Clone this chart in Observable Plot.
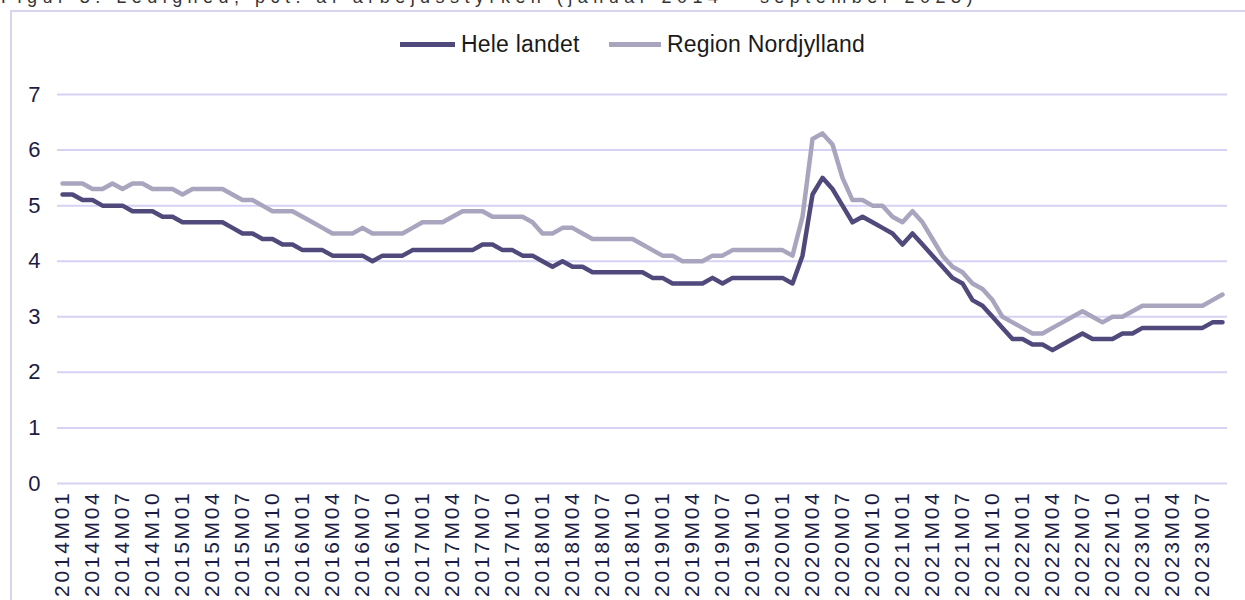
<!DOCTYPE html>
<html>
<head>
<meta charset="utf-8">
<script src="https://cdn.jsdelivr.net/npm/d3@7"></script>
<script src="https://cdn.jsdelivr.net/npm/@observablehq/plot@0.6"></script>
<style>
  html, body { margin: 0; padding: 0; background: #fff; overflow: hidden; }
  #wrap { position: relative; width: 1245px; height: 600px; overflow: hidden; font-family: "Liberation Sans", Arial, sans-serif; }
  #title { position: absolute; left: 1px; top: -12px; font-size: 18px; line-height: 18px; color: #333; white-space: nowrap; }
  #frame { position: absolute; left: 10px; top: 10px; width: 1280px; height: 640px; border: 2px solid #d8d5f1; box-sizing: border-box; pointer-events: none; }
  #legend { position: relative; height: 70px; }
  .sw { position: absolute; top: 42px; height: 5px; }
  .lt { position: absolute; top: 30px; font-size: 23px; line-height: 28px; color: #1a1a1a; white-space: nowrap; letter-spacing: 0.2px; }
  #chart { position: relative; }
  #chart svg [aria-label="x-axis tick label"] text { letter-spacing: 2.7px; }
</style>
</head>
<body>
<div id="wrap">
  <div id="title">Figur 3. Ledighed, pct. af arbejdsstyrken (januar 2014 – september 2023)</div>
  <div id="frame"></div>
  <div id="legend"></div>
  <div id="chart"></div>
</div>
<script>
// ---------- data ----------
const years = [2014, 2015, 2016, 2017, 2018, 2019, 2020, 2021, 2022, 2023];
const monthCodes = ["01","02","03","04","05","06","07","08","09","10","11","12"];
const lastMonth = "2023M09";
const months = [];
for (const yr of years) for (const m of monthCodes) {
  const lab = `${yr}M${m}`;
  if (months.length === 0 || months[months.length - 1] !== lastMonth) months.push(lab);
}

const seriesNames = ["Hele landet", "Region Nordjylland"];

const heleLandet = [
  5.2, 5.2, 5.1, 5.1, 5.0, 5.0, 5.0, 4.9, 4.9, 4.9, 4.8, 4.8,
  4.7, 4.7, 4.7, 4.7, 4.7, 4.6, 4.5, 4.5, 4.4, 4.4, 4.3, 4.3,
  4.2, 4.2, 4.2, 4.1, 4.1, 4.1, 4.1, 4.0, 4.1, 4.1, 4.1, 4.2,
  4.2, 4.2, 4.2, 4.2, 4.2, 4.2, 4.3, 4.3, 4.2, 4.2, 4.1, 4.1,
  4.0, 3.9, 4.0, 3.9, 3.9, 3.8, 3.8, 3.8, 3.8, 3.8, 3.8, 3.7,
  3.7, 3.6, 3.6, 3.6, 3.6, 3.7, 3.6, 3.7, 3.7, 3.7, 3.7, 3.7,
  3.7, 3.6, 4.1, 5.2, 5.5, 5.3, 5.0, 4.7, 4.8, 4.7, 4.6, 4.5,
  4.3, 4.5, 4.3, 4.1, 3.9, 3.7, 3.6, 3.3, 3.2, 3.0, 2.8, 2.6,
  2.6, 2.5, 2.5, 2.4, 2.5, 2.6, 2.7, 2.6, 2.6, 2.6, 2.7, 2.7,
  2.8, 2.8, 2.8, 2.8, 2.8, 2.8, 2.8, 2.9, 2.9
];

const nordjylland = [
  5.4, 5.4, 5.4, 5.3, 5.3, 5.4, 5.3, 5.4, 5.4, 5.3, 5.3, 5.3,
  5.2, 5.3, 5.3, 5.3, 5.3, 5.2, 5.1, 5.1, 5.0, 4.9, 4.9, 4.9,
  4.8, 4.7, 4.6, 4.5, 4.5, 4.5, 4.6, 4.5, 4.5, 4.5, 4.5, 4.6,
  4.7, 4.7, 4.7, 4.8, 4.9, 4.9, 4.9, 4.8, 4.8, 4.8, 4.8, 4.7,
  4.5, 4.5, 4.6, 4.6, 4.5, 4.4, 4.4, 4.4, 4.4, 4.4, 4.3, 4.2,
  4.1, 4.1, 4.0, 4.0, 4.0, 4.1, 4.1, 4.2, 4.2, 4.2, 4.2, 4.2,
  4.2, 4.1, 4.8, 6.2, 6.3, 6.1, 5.5, 5.1, 5.1, 5.0, 5.0, 4.8,
  4.7, 4.9, 4.7, 4.4, 4.1, 3.9, 3.8, 3.6, 3.5, 3.3, 3.0, 2.9,
  2.8, 2.7, 2.7, 2.8, 2.9, 3.0, 3.1, 3.0, 2.9, 3.0, 3.0, 3.1,
  3.2, 3.2, 3.2, 3.2, 3.2, 3.2, 3.2, 3.3, 3.4
];

const yTicks = [0, 1, 2, 3, 4, 5, 6, 7];
const xTickLabels = months.filter((d, i) => i % 3 === 0);
const seriesColors = ["#4f4a7b", "#a9a5be"];

// ---------- build table ----------
const rows = [];
[heleLandet, nordjylland].forEach((vals, s) => {
  vals.forEach((v, i) => rows.push({ series: seriesNames[s], month: months[i], value: v }));
});

// ---------- title fit ----------
(function () {
  const t = document.getElementById("title");
  const w = t.getBoundingClientRect().width;
  const n = t.textContent.length;
  t.style.letterSpacing = ((977 - w) / n) + "px";
})();

// ---------- legend ----------
const legend = document.getElementById("legend");
const legendPos = [{ sw: 400, swW: 55, tx: 461 }, { sw: 609, swW: 52, tx: 667 }];
seriesNames.forEach((name, i) => {
  const sw = document.createElement("div");
  sw.className = "sw";
  sw.style.left = legendPos[i].sw + "px";
  sw.style.width = legendPos[i].swW + "px";
  sw.style.background = seriesColors[i];
  legend.appendChild(sw);
  const tx = document.createElement("div");
  tx.className = "lt";
  tx.style.left = legendPos[i].tx + "px";
  tx.textContent = name;
  legend.appendChild(tx);
});

// ---------- chart ----------
const chart = Plot.plot({
  width: 1245,
  height: 530,
  marginLeft: 57,
  marginRight: 18,
  marginTop: 24,
  marginBottom: 117,
  style: { fontFamily: "'Liberation Sans', Arial, sans-serif", color: "#1c1c44", background: "transparent", overflow: "visible" },
  x: { type: "point", domain: months, padding: 0.5, label: null },
  y: { domain: [0, 7], label: null },
  color: { domain: seriesNames, range: seriesColors },
  marks: [
    Plot.gridY(yTicks, { stroke: "#d6d2f4", strokeOpacity: 1, strokeWidth: 2 }),
    Plot.axisY(yTicks, { tickSize: 0, tickPadding: 17, fontSize: 22, tickFormat: d => String(d), label: null }),
    Plot.axisX(xTickLabels, { tickSize: 0, tickRotate: -90, tickPadding: 7, fontSize: 21, label: null }),
    Plot.lineY(rows, { x: "month", y: "value", z: "series", stroke: "series", strokeWidth: 4.5, strokeLinejoin: "round", strokeLinecap: "round" })
  ]
});
document.getElementById("chart").appendChild(chart);
</script>
</body>
</html>
